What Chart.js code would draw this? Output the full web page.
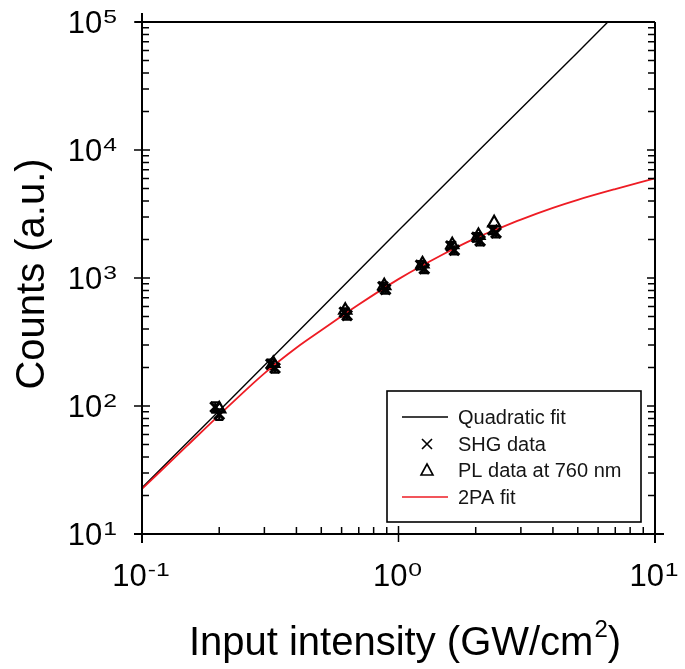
<!DOCTYPE html>
<html><head><meta charset="utf-8">
<script src="https://cdn.jsdelivr.net/npm/chart.js@4/dist/chart.umd.min.js"></script>
<style>html,body{margin:0;padding:0;background:#fff}#c{display:block}</style>
</head><body>
<canvas id="c" width="685" height="669"></canvas>
<script>
// ---- data ----
const quadX = [0.1, 0.2, 0.5, 1, 2, 5, 10];
const quadY = [23, 92, 580, 2350, 9400, 58000, 235000];

const fitX = [0.1, 0.15, 0.2, 0.3, 0.4, 0.5, 0.7, 1, 1.5, 2, 2.5, 3, 4, 5, 7, 10];
const fitY = [22.5, 49, 85, 180, 285, 390, 620, 980, 1540, 2050, 2470, 2860, 3530, 4080, 4950, 6000];

const shgX = [0.193, 0.2, 0.318, 0.33, 0.615, 0.63, 0.87, 0.89, 1.22, 1.26, 1.6, 1.65, 2.02, 2.08, 2.33, 2.4];
const shgY = [98, 86, 212, 198, 540, 510, 855, 815, 1260, 1180, 1780, 1650, 2080, 1950, 2380, 2250];
const shgErr = [9, 8, 18, 16, 40, 38, 65, 60, 95, 90, 130, 120, 160, 150, 180, 170];

const plX = [0.2, 0.325, 0.62, 0.88, 1.24, 1.62, 2.05, 2.36];
const plY = [95, 215, 560, 870, 1290, 1820, 2150, 2700];

const xTickExp = [-1, 0, 1];
const yTickExp = [1, 2, 3, 4, 5];

const legendLabels = ['Quadratic fit', 'SHG data', 'PL data at 760 nm', '2PA fit'];
const xTitleMain = 'Input intensity (GW/cm';
const xTitleSup = '2';
const xTitleEnd = ')';
const yTitle = 'Counts (a.u.)';

const pts = (xs, ys) => xs.map((x, i) => ({x: x, y: ys[i]}));
const FONT = '"Liberation Sans", Arial, sans-serif';
const RED = '#ee1c24';

function drawPow(ctx, exp, x, y, align) {
  const base = '10', sup = String(exp);
  const SX = 1.3;
  ctx.font = '31px ' + FONT;
  const wb = ctx.measureText(base).width;
  ctx.font = '19px ' + FONT;
  const ws = ctx.measureText(sup).width * SX;
  const w = wb + ws + 1;
  let sx = align === 'right' ? x - w : x - w / 2;
  ctx.textAlign = 'left';
  ctx.textBaseline = 'alphabetic';
  ctx.fillStyle = '#000';
  ctx.font = '31px ' + FONT;
  ctx.fillText(base, sx, y + 11);
  ctx.save();
  ctx.translate(sx + wb + 1, y + 0.5);
  ctx.scale(SX, 1);
  ctx.font = '19px ' + FONT;
  ctx.fillText(sup, 0, 0);
  ctx.restore();
}

const framePlugin = {
  id: 'frame',
  beforeDatasetsDraw(chart) {
    const ctx = chart.ctx, xs = chart.scales.x, ys = chart.scales.y;
    ctx.save();
    ctx.strokeStyle = '#000';
    ctx.lineWidth = 2.2;
    shgX.forEach((x, i) => {
      const px = xs.getPixelForValue(x);
      const p1 = ys.getPixelForValue(shgY[i] + shgErr[i]);
      const p2 = ys.getPixelForValue(shgY[i] - shgErr[i]);
      ctx.beginPath();
      ctx.moveTo(px, p1); ctx.lineTo(px, p2);
      ctx.moveTo(px - 4, p1); ctx.lineTo(px + 4, p1);
      ctx.moveTo(px - 4, p2); ctx.lineTo(px + 4, p2);
      ctx.stroke();
    });
    ctx.restore();
  },
  afterDraw(chart) {
    const ctx = chart.ctx, a = chart.chartArea;
    const xs = chart.scales.x, ys = chart.scales.y;
    ctx.save();
    ctx.strokeStyle = '#000';
    ctx.lineWidth = 2;
    ctx.lineCap = 'butt';
    ctx.beginPath();
    ctx.moveTo(a.left - 7, a.top); ctx.lineTo(a.right, a.top);
    ctx.moveTo(a.left, a.top - 9); ctx.lineTo(a.left, a.bottom + 9);
    ctx.moveTo(a.left - 8, a.bottom); ctx.lineTo(a.right + 9, a.bottom);
    ctx.moveTo(a.right, a.top); ctx.lineTo(a.right, a.bottom + 9);
    ctx.stroke();
    ctx.lineWidth = 1.5;
    ctx.beginPath();
    for (let e = 1; e <= 5; e++) {
      const py = ys.getPixelForValue(Math.pow(10, e));
      ctx.moveTo(a.left - 8, py); ctx.lineTo(a.left + 8, py);
      ctx.moveTo(a.right - 8, py); ctx.lineTo(a.right, py);
      if (e < 5) {
        for (let k = 2; k <= 9; k++) {
          const pm = ys.getPixelForValue(k * Math.pow(10, e));
          ctx.moveTo(a.left, pm); ctx.lineTo(a.left + 7, pm);
          ctx.moveTo(a.right - 7, pm); ctx.lineTo(a.right, pm);
        }
      }
    }
    for (let e = -1; e <= 1; e++) {
      const px = xs.getPixelForValue(Math.pow(10, e));
      ctx.moveTo(px, a.bottom + 8); ctx.lineTo(px, a.bottom - 8);
      if (e < 1) {
        for (let k = 2; k <= 9; k++) {
          const pm = xs.getPixelForValue(k * Math.pow(10, e));
          ctx.moveTo(pm, a.bottom); ctx.lineTo(pm, a.bottom - 7);
        }
      }
    }
    ctx.stroke();
    yTickExp.forEach(e => drawPow(ctx, e, 117, ys.getPixelForValue(Math.pow(10, e)), 'right'));
    xTickExp.forEach(e => drawPow(ctx, e, xs.getPixelForValue(Math.pow(10, e)) - 1, 575, 'center'));
    // x title
    ctx.fillStyle = '#000';
    ctx.textBaseline = 'alphabetic';
    ctx.textAlign = 'left';
    ctx.font = '40px ' + FONT;
    const w1 = ctx.measureText(xTitleMain).width;
    const w3 = ctx.measureText(xTitleEnd).width;
    ctx.font = '24px ' + FONT;
    const w2 = ctx.measureText(xTitleSup).width;
    let sx = 405 - (w1 + w2 + w3 + 1) / 2;
    ctx.font = '40px ' + FONT;
    ctx.fillText(xTitleMain, sx, 655);
    ctx.font = '24px ' + FONT;
    ctx.fillText(xTitleSup, sx + w1 + 1, 637);
    ctx.font = '40px ' + FONT;
    ctx.fillText(xTitleEnd, sx + w1 + w2 + 1, 655);
    // y title
    ctx.save();
    ctx.translate(33, 274);
    ctx.rotate(-Math.PI / 2);
    ctx.textAlign = 'center';
    ctx.textBaseline = 'middle';
    ctx.font = '40px ' + FONT;
    ctx.fillText(yTitle, 0, 0);
    ctx.restore();
    // legend
    const L = 387, T = 391, R = 641, B = 522;
    ctx.fillStyle = '#fff';
    ctx.fillRect(L, T, R - L, B - T);
    ctx.lineWidth = 1.6;
    ctx.strokeStyle = '#000';
    ctx.strokeRect(L, T, R - L, B - T);
    const rows = [417, 444, 470, 497];
    ctx.font = '20px ' + FONT;
    ctx.textAlign = 'left';
    ctx.textBaseline = 'middle';
    ctx.fillStyle = '#151515';
    legendLabels.forEach((t, i) => ctx.fillText(t, 458, rows[i] + 1));
    ctx.lineWidth = 1.6;
    ctx.strokeStyle = '#000';
    ctx.beginPath(); ctx.moveTo(402, rows[0]); ctx.lineTo(448, rows[0]); ctx.stroke();
    ctx.strokeStyle = RED;
    ctx.beginPath(); ctx.moveTo(402, rows[3]); ctx.lineTo(448, rows[3]); ctx.stroke();
    ctx.strokeStyle = '#000';
    ctx.beginPath();
    ctx.moveTo(422, rows[1] - 5); ctx.lineTo(432, rows[1] + 5);
    ctx.moveTo(432, rows[1] - 5); ctx.lineTo(422, rows[1] + 5);
    ctx.stroke();
    ctx.beginPath();
    ctx.moveTo(427, rows[2] - 6); ctx.lineTo(433, rows[2] + 5); ctx.lineTo(421, rows[2] + 5); ctx.closePath();
    ctx.stroke();
    ctx.restore();
  }
};

new Chart(document.getElementById('c'), {
  type: 'scatter',
  data: {
    datasets: [
      { label: legendLabels[0], data: pts(quadX, quadY), showLine: true, borderColor: '#000', borderWidth: 1.4, pointRadius: 0, order: 3 },
      { label: legendLabels[3], data: pts(fitX, fitY), showLine: true, borderColor: RED, borderWidth: 1.8, pointRadius: 0, cubicInterpolationMode: 'monotone', order: 2 },
      { label: legendLabels[1], data: pts(shgX, shgY), pointStyle: 'crossRot', pointRadius: 7, borderColor: '#000', borderWidth: 3, order: 1 },
      { label: legendLabels[2], data: pts(plX, plY), pointStyle: 'triangle', pointRadius: 7, borderColor: '#000', backgroundColor: 'rgba(255,255,255,0)', borderWidth: 2.2, order: 0 }
    ]
  },
  options: {
    responsive: false,
    devicePixelRatio: 1,
    animation: false,
    layout: { padding: { left: 142, top: 22, right: 30, bottom: 135 } },
    plugins: { legend: { display: false }, tooltip: { enabled: false } },
    scales: {
      x: { type: 'logarithmic', min: 0.1, max: 10, display: false },
      y: { type: 'logarithmic', min: 10, max: 100000, display: false }
    }
  },
  plugins: [framePlugin]
});
</script>
</body></html>
